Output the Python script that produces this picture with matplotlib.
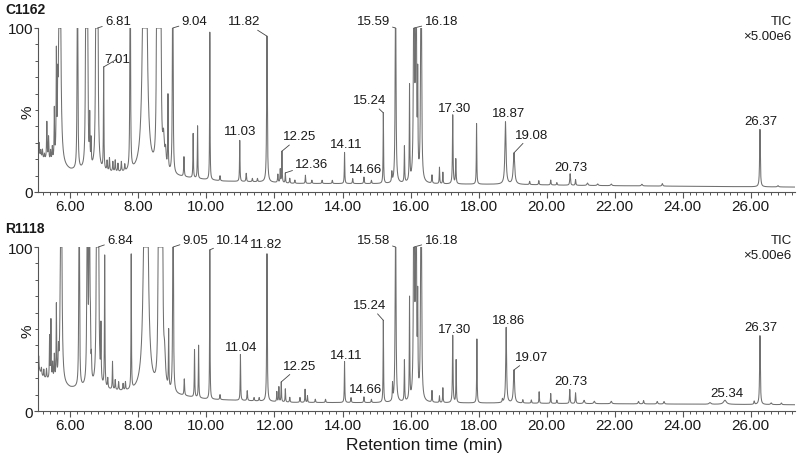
import numpy as np
import matplotlib
matplotlib.use("Agg")
import matplotlib.pyplot as plt
from matplotlib.ticker import MultipleLocator, FixedLocator

plt.rcParams['font.family'] = ['Liberation Sans', 'DejaVu Sans']

# ---- data (time in min, intensity in % of 5.00e6) ----
# C1162
c_base_t = [5.05, 5.25, 5.5, 6.0, 7.0, 7.8, 8.9, 9.9, 10.5, 11.7, 12.5, 15.0, 17.0, 19.0, 21.0, 24.0, 27.3]
c_base_v = [22, 19, 16, 12.5, 11.5, 10.5, 9.5, 7.5, 6.5, 6.0, 5.2, 5.0, 4.8, 4.6, 4.0, 3.5, 3.0]
c_rt = [5.08, 5.13, 5.18, 5.24, 5.31, 5.36, 5.42, 5.47, 5.53, 5.59, 5.63, 5.69,
        6.21, 6.46, 6.50, 6.57, 6.61, 6.76, 6.80, 6.98, 7.08, 7.15, 7.25, 7.32,
        7.40, 7.50, 7.60, 7.76, 8.19, 8.55, 8.60, 8.65, 8.74, 8.80, 8.87, 9.01,
        9.34, 9.61, 9.74, 10.10, 10.40, 10.98, 11.17, 11.35, 11.50, 11.78,
        12.10, 12.17, 12.22, 12.32, 12.45, 12.60, 12.91, 13.10, 13.40, 13.70,
        14.06, 14.30, 14.63, 14.85, 15.20, 15.45, 15.56, 15.82, 15.97, 16.10,
        16.16, 16.21, 16.31, 16.63, 16.85, 16.95, 17.24, 17.33, 17.94, 18.79,
        19.04, 19.50, 19.77, 20.12, 20.30, 20.69, 20.85, 21.20, 21.50, 21.90,
        22.80, 23.40, 26.27, 26.80]
c_h = [8, 4, 5, 3, 23, 14, 6, 8, 30, 60, 30, 300,
       250, 250, 250, 28, 15, 250, 250, 62, 6, 8, 6, 7,
       5, 6, 4, 220, 600, 300, 200, 300, 18, 10, 45, 250,
       12, 27, 32, 90, 3, 25, 5, 2, 2, 89,
       5, 8, 19, 6, 3, 2, 5, 2, 2, 2,
       19, 3, 4, 2, 43, 6, 150, 22, 58, 300,
       300, 56, 300, 5, 10, 7, 42, 15, 37, 38,
       19, 2, 2.5, 3, 1.5, 7, 3.5, 1.5, 1, 1,
       1, 1.5, 35, 0.8]
c_w = [0.01, 0.01, 0.01, 0.01, 0.01, 0.01, 0.01, 0.01, 0.008, 0.008, 0.008, 0.02,
       0.008, 0.01, 0.01, 0.008, 0.008, 0.012, 0.012, 0.008, 0.01, 0.01, 0.01, 0.01,
       0.01, 0.01, 0.01, 0.008, 0.03, 0.012, 0.012, 0.012, 0.03, 0.02, 0.008, 0.008,
       0.01, 0.008, 0.008, 0.007, 0.01, 0.008, 0.01, 0.01, 0.01, 0.012,
       0.01, 0.008, 0.008, 0.008, 0.01, 0.01, 0.008, 0.01, 0.01, 0.01,
       0.008, 0.01, 0.01, 0.01, 0.008, 0.01, 0.012, 0.008, 0.008, 0.01,
       0.01, 0.008, 0.01, 0.01, 0.008, 0.008, 0.01, 0.01, 0.008, 0.02,
       0.025, 0.01, 0.01, 0.01, 0.01, 0.012, 0.01, 0.02, 0.02, 0.02,
       0.02, 0.015, 0.012, 0.02]

# R1118
r_base_t = [5.05, 5.2, 5.5, 6.0, 7.0, 7.8, 9.0, 10.0, 11.5, 12.5, 15.0, 19.0, 21.0, 24.0, 27.3]
r_base_v = [26, 20, 17, 13.5, 12.5, 10.5, 9.5, 7.0, 6.0, 5.2, 5.0, 4.8, 4.5, 4.2, 3.8]
r_rt = [5.07, 5.15, 5.22, 5.30, 5.39, 5.43, 5.48, 5.53, 5.59, 5.65, 5.73,
        6.26, 6.50, 6.56, 6.59, 6.62, 6.78, 6.82, 6.90, 7.01, 7.10, 7.24,
        7.32, 7.42, 7.55, 7.62, 7.79, 8.22, 8.60, 8.65, 8.70, 8.77, 8.89,
        9.02, 9.35, 9.65, 9.77, 10.10, 10.40, 11.00, 11.20, 11.40, 11.55,
        11.78, 12.07, 12.13, 12.20, 12.32, 12.45, 12.75, 12.90, 12.97, 13.20,
        13.50, 14.06, 14.25, 14.63, 14.85, 15.20, 15.47, 15.56, 15.82, 15.97,
        16.10, 16.16, 16.21, 16.31, 16.63, 16.85, 16.95, 17.24, 17.34, 17.95,
        18.70, 18.81, 19.04, 19.30, 19.55, 19.78, 20.12, 20.30, 20.68, 20.85,
        21.10, 21.40, 21.90, 22.70, 22.85, 23.25, 23.45, 24.80, 25.24, 26.10,
        26.27, 26.60, 26.90]
r_h = [8, 4, 5, 6, 26, 36, 10, 15, 45, 15, 300,
       250, 250, 250, 22, 12, 250, 250, 33, 80, 6, 17,
       6, 5, 4, 5, 82, 600, 300, 300, 300, 18, 35,
       250, 10, 29, 32, 91, 3, 28, 6, 2, 2,
       90, 6, 9, 12, 8, 3, 3, 8, 4, 2,
       2, 25, 3, 3.5, 2, 50, 10, 150, 25, 62,
       300, 300, 54, 300, 7, 4, 9, 41, 26, 39,
       2, 46, 20, 2, 2, 7, 6, 2, 8.5, 6.5,
       2, 1.5, 1.5, 1.5, 2, 1.5, 1.5, 1, 2.5, 2,
       42, 1, 1]
r_w = [0.01, 0.01, 0.01, 0.01, 0.008, 0.008, 0.01, 0.01, 0.008, 0.01, 0.015,
       0.008, 0.01, 0.01, 0.008, 0.008, 0.012, 0.012, 0.008, 0.008, 0.01, 0.008,
       0.01, 0.01, 0.01, 0.01, 0.007, 0.03, 0.012, 0.012, 0.012, 0.03, 0.008,
       0.008, 0.01, 0.008, 0.008, 0.007, 0.01, 0.008, 0.01, 0.01, 0.01,
       0.01, 0.008, 0.008, 0.008, 0.008, 0.01, 0.01, 0.008, 0.008, 0.01,
       0.01, 0.008, 0.01, 0.01, 0.01, 0.008, 0.008, 0.012, 0.008, 0.008,
       0.01, 0.01, 0.008, 0.01, 0.008, 0.008, 0.008, 0.01, 0.008, 0.008,
       0.01, 0.015, 0.02, 0.01, 0.01, 0.008, 0.008, 0.01, 0.01, 0.01,
       0.02, 0.02, 0.02, 0.015, 0.012, 0.015, 0.015, 0.03, 0.05, 0.012,
       0.012, 0.02, 0.015]

# peak labels: text, peak it points at, label centre (time, %)
c_lab = ["6.81", "7.01", "9.04", "11.82", "11.03", "12.25", "12.36", "14.11", "14.66",
         "15.24", "15.59", "16.18", "17.30", "18.87", "19.08", "20.73", "26.37"]
c_lab_pk = [6.80, 6.98, 9.01, 11.78, None, 12.22, 12.32, None, None,
            15.20, 15.56, 16.10, None, None, 19.04, None, None]
c_lab_t = [7.40, 7.37, 9.65, 11.10, 11.00, 12.75, 13.10, 14.10, 14.67,
           14.80, 14.90, 16.90, 17.30, 18.87, 19.55, 20.70, 26.30]
c_lab_y = [104, 81, 104, 104, 37, 34, 17, 29, 14,
           56, 104, 104, 51, 48, 35, 15, 43]

r_lab = ["6.84", "9.05", "10.14", "11.82", "11.04", "12.25", "14.11", "14.66", "15.24",
         "15.58", "16.18", "17.30", "18.86", "19.07", "20.73", "25.34", "26.37"]
r_lab_pk = [6.82, 9.02, 10.10, None, None, 12.20, None, None, 15.20,
            15.56, 16.10, None, None, 19.04, None, None, None]
r_lab_t = [7.46, 9.68, 10.78, 11.76, 11.02, 12.75, 14.10, 14.67, 14.80,
           14.90, 16.90, 17.30, 18.87, 19.55, 20.70, 25.30, 26.30]
r_lab_y = [104.5, 104.5, 104.5, 102, 39, 27.6, 34, 13.4, 64.6,
           104.5, 104.5, 50, 55.5, 33, 18, 11, 51]

samples = ["C1162", "R1118"]


def trace(t, base_t, base_v, rt, h, w):
    """ baseline plus lorentzian shaped peaks, detector saturates at 100 """
    y = np.interp(t, base_t, base_v)
    for p, a, s in zip(rt, h, w):
        y = y + a / (1 + ((t - p) / s) ** 2)
    return np.minimum(y, 100)


t = np.arange(5.0, 27.4, 0.002)
panels = [
    (trace(t, c_base_t, c_base_v, c_rt, c_h, c_w), c_lab, c_lab_pk, c_lab_t, c_lab_y),
    (trace(t, r_base_t, r_base_v, r_rt, r_h, r_w), r_lab, r_lab_pk, r_lab_t, r_lab_y),
]

fig = plt.figure(figsize=(8, 4.6), dpi=100)
line_col = '#707070'
txt_col = '#1a1a1a'
ax_bottoms = [1 - 193 / 460, 1 - 412 / 460]
ax_tops = [29, 248]

for i, (y, labs, pks, lt, ly) in enumerate(panels):
    ax = fig.add_axes([38 / 800, ax_bottoms[i], 757 / 800, 164 / 460])
    ax.plot(t, y, color=line_col, lw=0.75)
    ax.set_xlim(5.05, 27.3)
    ax.set_ylim(0, 100)
    for s in ['top', 'right']:
        ax.spines[s].set_visible(False)
    for s in ['left', 'bottom']:
        ax.spines[s].set_color('#555555')
        ax.spines[s].set_linewidth(0.8)

    ax.xaxis.set_major_locator(MultipleLocator(2))
    ax.xaxis.set_minor_locator(MultipleLocator(0.2))
    ax.xaxis.set_major_formatter(lambda v, pos: f"{v:.2f}")
    ax.yaxis.set_major_locator(FixedLocator([0, 100]))
    ax.yaxis.set_minor_locator(MultipleLocator(10))
    ax.tick_params(axis='x', which='major', length=4, width=0.8, color='#555555',
                   labelsize=11, labelcolor=txt_col, pad=1)
    ax.tick_params(axis='y', which='major', length=3, width=0.8, color='#555555',
                   labelsize=11, labelcolor=txt_col, pad=0.5)
    ax.tick_params(axis='both', which='minor', length=2.5, width=0.7, color='#555555')
    ax.text(-10 / 757, 0.49, '%', rotation=90, ha='center', va='center',
            fontsize=11, color=txt_col, transform=ax.transAxes)

    for lab, pk, tx, ty in zip(labs, pks, lt, ly):
        if pk is None:
            ax.text(tx, ty, lab, ha='center', va='center', fontsize=9.5, color=txt_col, clip_on=False)
        else:
            k = np.argmin(np.abs(t - pk))
            ax.annotate(lab, xy=(pk, y[k]), xytext=(tx, ty), ha='center', va='center',
                        fontsize=9.5, color=txt_col, annotation_clip=False,
                        arrowprops=dict(arrowstyle='-', color='#444444', lw=0.6,
                                        shrinkA=0, shrinkB=0))

    ax.text(27.2, 104, 'TIC', ha='right', va='center', fontsize=9.5, color=txt_col, clip_on=False)
    ax.text(27.2, 95, '×5.00e6', ha='right', va='center', fontsize=9.5, color=txt_col, clip_on=False)
    fig.text(5 / 800, 1 - (ax_tops[i] - 19) / 460, samples[i], ha='left', va='center',
             fontsize=10, fontweight='bold', color=txt_col)

fig.text(424 / 800, 1 - 446 / 460, 'Retention time (min)', ha='center', va='center',
         fontsize=12.5, color=txt_col)

fig.savefig('out.png', dpi=100)
